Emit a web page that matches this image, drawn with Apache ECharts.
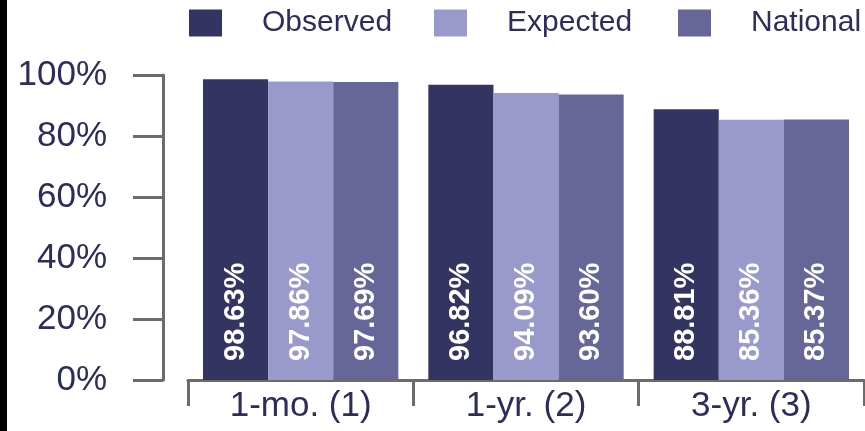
<!DOCTYPE html>
<html>
<head>
<meta charset="utf-8">
<style>
  html, body { margin: 0; padding: 0; background: #ffffff; }
  #wrap { position: relative; width: 865px; height: 431px; }
  #chart { width: 865px; height: 431px; }
  #edge { position: absolute; left: 0; top: 0; width: 7px; height: 431px; background: #000000; z-index: 10; }
</style>
<script src="https://cdn.jsdelivr.net/npm/echarts@6/dist/echarts.min.js"></script>
</head>
<body>
<div id="wrap">
  <div id="chart"></div>
  <div id="edge"></div>
</div>
<script>
// Survival rates by follow-up period
const categories = ['1-mo. (1)', '1-yr. (2)', '3-yr. (3)'];
const seriesNames = ['Observed', 'Expected', 'National'];
const observed = [98.63, 96.82, 88.81];
const expected = [97.86, 94.09, 85.36];
const national = [97.69, 93.60, 85.37];
const yTicks = [0, 20, 40, 60, 80, 100];

const colors = ['#343462', '#9999cc', '#666699'];
const textColor = '#2b2d5c';
const axisColor = '#6b6b6b';
const fontFamily = '"Liberation Sans", Arial, sans-serif';
const legendLefts = [184, 429, 673];

const chart = echarts.init(document.getElementById('chart'), null, { renderer: 'canvas' });

function barSeries(name, data, color) {
  return {
    name: name,
    type: 'bar',
    data: data,
    barGap: '0%',
    barCategoryGap: '13.3%',
    itemStyle: { color: color },
    label: {
      show: true,
      position: 'insideBottom',
      rotate: 90,
      align: 'left',
      verticalAlign: 'middle',
      distance: 19,
      color: '#ffffff',
      fontWeight: 'bold',
      fontSize: 29,
      fontFamily: fontFamily,
      formatter: p => p.value.toFixed(2) + '%'
    }
  };
}

// one legend block per series so each entry sits at its own spot
const legends = seriesNames.map((name, i) => ({
  data: [name],
  left: legendLefts[i],
  top: 3,
  itemWidth: 33,
  itemHeight: 27,
  icon: 'rect',
  textStyle: {
    color: textColor,
    fontSize: 30,
    fontFamily: fontFamily,
    padding: [0, 0, 0, 35]
  }
}));

chart.setOption({
  animation: false,
  backgroundColor: '#ffffff',
  legend: legends,
  grid: { left: 188, right: 1, top: 75, bottom: 51, containLabel: false },
  xAxis: {
    type: 'category',
    data: categories,
    axisLine: { lineStyle: { color: axisColor, width: 3 } },
    axisTick: { show: true, length: 26, lineStyle: { color: axisColor, width: 3 } },
    axisLabel: {
      color: textColor,
      fontSize: 35,
      fontFamily: fontFamily,
      margin: 9
    }
  },
  yAxis: {
    type: 'value',
    min: yTicks[0],
    max: yTicks[yTicks.length - 1],
    interval: 20,
    offset: 25,
    splitLine: { show: false },
    axisLine: { show: true, lineStyle: { color: axisColor, width: 3 } },
    axisTick: { show: true, length: 30, lineStyle: { color: axisColor, width: 3 } },
    axisLabel: {
      color: textColor,
      fontSize: 35,
      fontFamily: fontFamily,
      margin: 56,
      formatter: v => v + '%'
    }
  },
  series: [
    barSeries(seriesNames[0], observed, colors[0]),
    barSeries(seriesNames[1], expected, colors[1]),
    barSeries(seriesNames[2], national, colors[2])
  ]
});
</script>
</body>
</html>
